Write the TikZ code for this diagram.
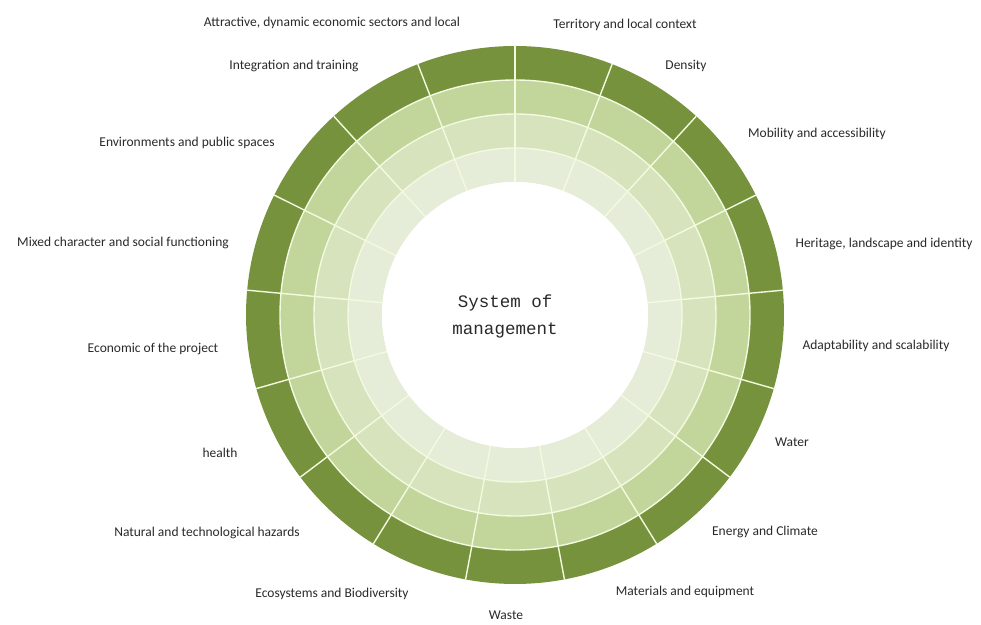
\documentclass[tikz,border=0pt]{standalone}
\usepackage{fontspec}
\setmainfont{Carlito}
\newfontfamily\monof{Liberation Mono}
\definecolor{darkg}{HTML}{76923C}
\definecolor{lightA}{HTML}{C2D69B}
\definecolor{lightB}{HTML}{D6E3BC}
\definecolor{lightC}{HTML}{E5ECD7}
\definecolor{sepc}{HTML}{F3FAE0}
\definecolor{txt}{HTML}{2A2A2A}
\tikzset{
  seg/.style={draw=sepc, line width=1.4pt, line join=round},
  lab/.style={font=\fontsize{13.5}{15}\selectfont, text=txt, inner sep=0pt},
  ctr/.style={font=\monof\fontsize{17.5}{27}\selectfont, text=txt, align=center, inner sep=0pt}
}
\begin{document}
\begin{tikzpicture}[x=1pt,y=1pt]
\useasboundingbox (0,0) rectangle (981,624);
\fill[white] (0,0) rectangle (981,624);
\pgfmathsetmacro{\d}{360/17}
\begin{scope}[shift={(515,309)}]
  \foreach \i in {0,...,16} {
    \pgfmathsetmacro{\aa}{90-\i*\d}
    \pgfmathsetmacro{\ab}{90-(\i+1)*\d}
    \foreach \ri/\ro/\col in {235/269/darkg, 201/235/lightA, 167/201/lightB, 133/167/lightC} {
      \fill[\col] (\aa:\ro) arc[start angle=\aa, end angle=\ab, radius=\ro]
        -- (\ab:\ri) arc[start angle=\ab, end angle=\aa, radius=\ri] -- cycle;
    }
  }
  \foreach \r in {235,201,167} \draw[seg] (0,0) circle[radius=\r];
  \foreach \i in {0,...,16} {
    \pgfmathsetmacro{\aa}{90-\i*\d}
    \draw[seg] (\aa:133) -- (\aa:269);
  }
  \fill[white] (0,0) circle[radius=133];
\end{scope}
\node[ctr] (c) at (505,308) {System of\\management};
\node[lab] (l0) at (625,599) {Territory and local context};
\node[lab] (l1) at (686,558) {Density};
\node[lab] (l2) at (817,490) {Mobility and accessibility};
\node[lab] (l3) at (884,380) {Heritage, landscape and identity};
\node[lab] (l4) at (876,278) {Adaptability and scalability};
\node[lab] (l5) at (792,182) {Water};
\node[lab] (l6) at (765,92) {Energy and Climate};
\node[lab] (l7) at (685,32) {Materials and equipment};
\node[lab] (l8) at (506,9) {Waste};
\node[lab] (l9) at (332,30) {Ecosystems and Biodiversity};
\node[lab] (l10) at (207,91) {Natural and technological hazards};
\node[lab] (l11) at (220,171) {health};
\node[lab] (l12) at (153,275) {Economic of the project};
\node[lab] (l13) at (123,381) {Mixed character and social functioning};
\node[lab] (l14) at (187,481) {Environments and public spaces};
\node[lab] (l15) at (294,558) {Integration and training};
\node[lab] (l16) at (332,601) {Attractive, dynamic economic sectors and local};
\end{tikzpicture}
\end{document}
